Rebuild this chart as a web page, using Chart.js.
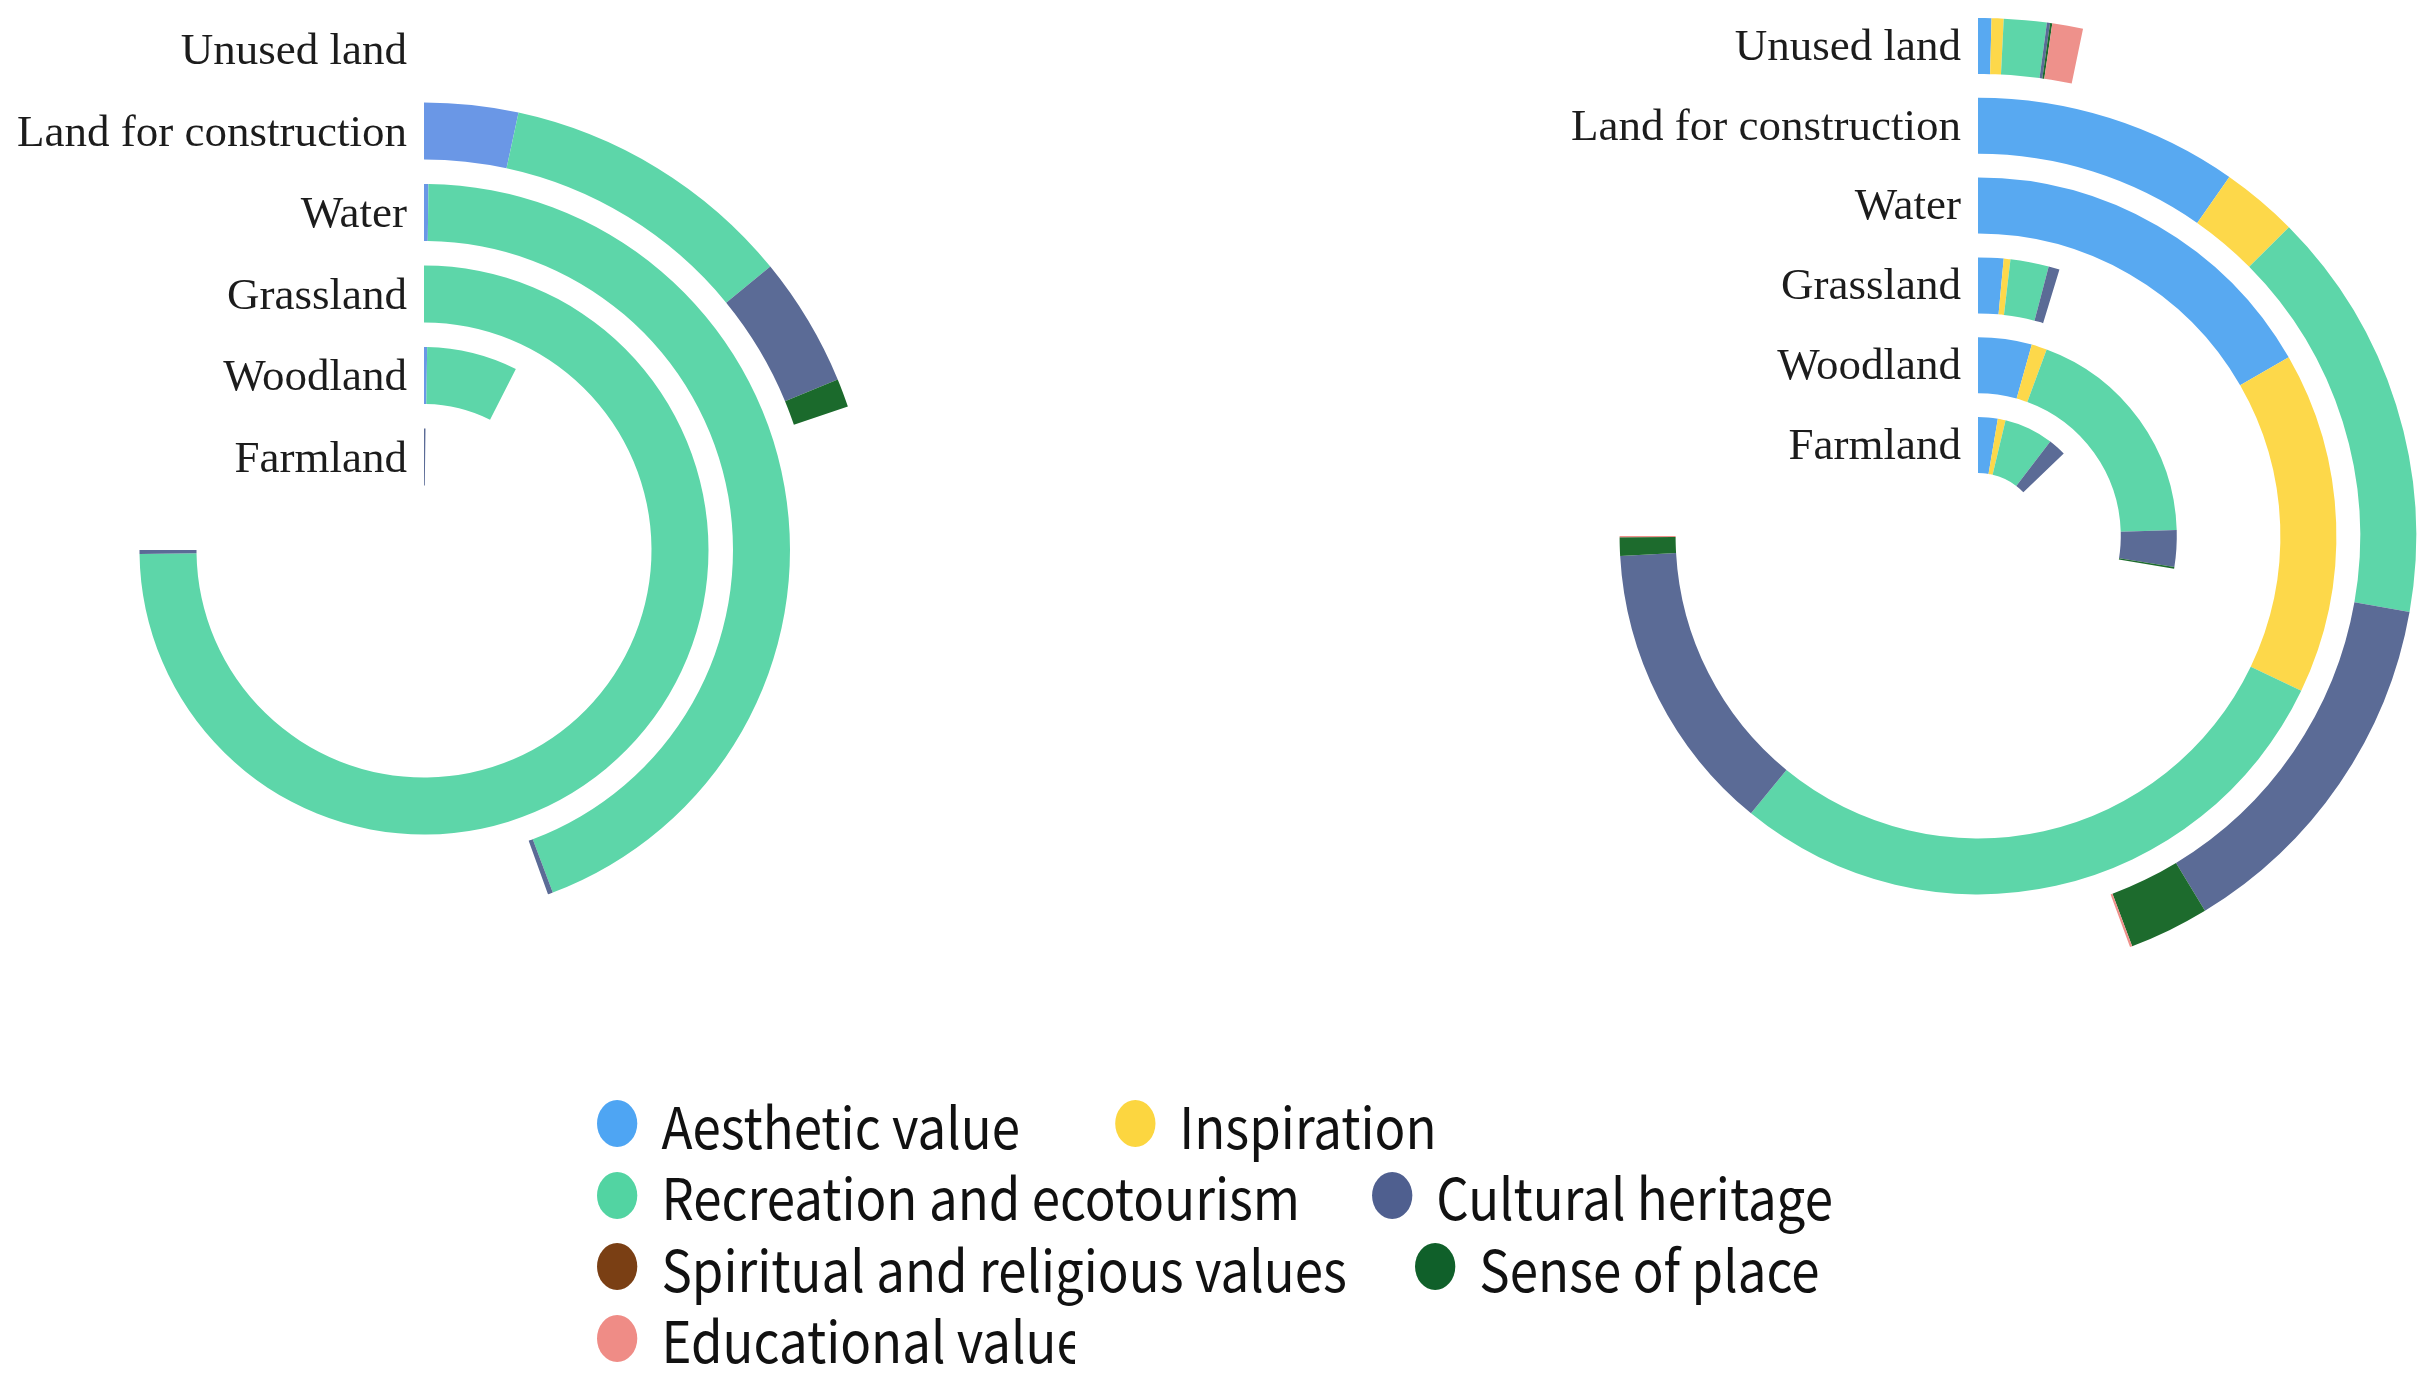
<!DOCTYPE html>
<html><head><meta charset="utf-8">
<script src="https://cdn.jsdelivr.net/npm/chart.js@4.4.1/dist/chart.umd.min.js"></script>
<style>
html,body{margin:0;padding:0;background:#fff;width:2436px;height:1383px;overflow:hidden;position:relative;}
canvas{position:absolute;}
#legend{position:absolute;left:597px;top:1088px;font-family:"Noto Sans CJK SC","Noto Sans",sans-serif;font-size:57px;color:#111;transform:scaleX(0.895);transform-origin:0 0;}
.row{display:flex;align-items:center;height:71.5px;white-space:nowrap;}
.item{display:flex;align-items:center;}
.mk{width:45px;height:47px;border-radius:50%;margin-right:27px;flex:none;}
.clip{overflow:hidden;}
</style></head><body>
<canvas id="left" width="1080" height="1080" style="left:-116px;top:10px"></canvas>
<canvas id="right" width="1060" height="1060" style="left:1448px;top:6px"></canvas>
<div id="legend"></div>
<script>
// Radial categories, outermost ring first
const CATEGORIES = ['Unused land','Land for construction','Water','Grassland','Woodland','Farmland'];
const SERIES = ['Aesthetic value','Inspiration','Recreation and ecotourism','Cultural heritage','Spiritual and religious values','Sense of place','Educational value'];
const ANGLE_MAX = 360; // full turn of the angle axis

// Left chart values (per category, outer -> inner)
const L_AESTHETIC   = [0, 12.2, 0.7, 0, 0.9, 0];
const L_INSPIRATION = [0, 0, 0, 0, 0, 0];
const L_RECREATION  = [0, 38.5, 158.7, 269.2, 26.0, 0];
const L_CULTURAL    = [0, 16.9, 0.8, 0.8, 0, 0.7];
const L_SPIRITUAL   = [0, 0, 0, 0, 0, 0];
const L_SENSE       = [0, 3.7, 0, 0, 0, 0];
const L_EDUCATIONAL = [0, 0, 0, 0, 0, 0];

// Right chart values
const R_AESTHETIC   = [1.5, 35.0, 60.1, 5.3, 15.7, 9.6];
const R_INSPIRATION = [1.35, 10.2, 55.5, 1.4, 4.5, 3.8];
const R_RECREATION  = [4.8, 54.8, 103.7, 8.0, 68.1, 24.0];
const R_CULTURAL    = [0.35, 48.8, 47.5, 2.3, 10.7, 8.7];
const R_SPIRITUAL   = [0, 0, 0, 0, 0, 0];
const R_SENSE       = [0.25, 10.6, 3.0, 0, 0.5, 0];
const R_EDUCATIONAL = [3.45, 0.3, 0.2, 0, 0, 0];

const LEFT_SERIES  = [L_AESTHETIC, L_INSPIRATION, L_RECREATION, L_CULTURAL, L_SPIRITUAL, L_SENSE, L_EDUCATIONAL];
const RIGHT_SERIES = [R_AESTHETIC, R_INSPIRATION, R_RECREATION, R_CULTURAL, R_SPIRITUAL, R_SENSE, R_EDUCATIONAL];

const LEFT_COLORS   = ['#6a97e6','#fdd84a','#5dd6a9','#5b6b96','#7b4219','#1b6a2c','#ee918b'];
const RIGHT_COLORS  = ['#58a9f1','#fdd84a','#5dd6a9','#5b6b96','#7b4219','#1d6b2d','#ee918b'];
const LEGEND_COLORS = ['#4ea5f3','#fcd640','#52d4a2','#4f5f8f','#7a3f14','#10602a','#ef8c86'];
const LEGEND_ROWS = [[0,1],[2,3],[4,5],[6]];
const LEGEND_ROW_GAPS = [106, 80, 76, 0];

const ringLabels = {
  id: 'ringLabels',
  afterDatasetsDraw(chart, args, opts) {
    const ctx = chart.ctx;
    ctx.save();
    ctx.font = opts.font;
    ctx.fillStyle = opts.color;
    ctx.textAlign = 'right';
    ctx.textBaseline = 'middle';
    chart.data.datasets.forEach((ds, di) => {
      if (!ds.category) return;
      const arc = chart.getDatasetMeta(di).data[0];
      const r = (arc.innerRadius + arc.outerRadius) / 2;
      ctx.fillText(ds.category, arc.x - opts.gap, arc.y - r + opts.dy);
    });
    ctx.restore();
  }
};

function buildChart(id, seriesArrays, colors, geo) {
  const datasets = [];
  CATEGORIES.forEach((cat, ci) => {
    if (ci > 0) {
      datasets.push({ data: [1], backgroundColor: ['rgba(0,0,0,0)'], weight: geo.gap, borderWidth: 0 });
    }
    const vals = seriesArrays.map(arr => arr[ci]);
    const sum = vals.reduce((a, b) => a + b, 0);
    datasets.push({
      category: cat,
      data: vals.concat([ANGLE_MAX - sum]),
      backgroundColor: colors.concat(['rgba(0,0,0,0)']),
      weight: geo.ring,
      borderWidth: 0
    });
  });
  return new Chart(document.getElementById(id), {
    type: 'doughnut',
    data: { labels: SERIES.concat(['']), datasets },
    options: {
      responsive: false,
      animation: false,
      events: [],
      radius: geo.outer,
      cutout: (geo.inner / geo.outer * 100) + '%',
      layout: { padding: 0 },
      plugins: {
        legend: { display: false },
        tooltip: { enabled: false },
        ringLabels: { font: '45px "Liberation Serif", "Times New Roman", serif', color: '#1c1c1c', gap: 17, dy: geo.labelDy }
      }
    },
    plugins: [ringLabels]
  });
}

buildChart('left', LEFT_SERIES, LEFT_COLORS, { outer: 529, inner: 64.5, ring: 57, gap: 24.5, labelDy: 3 });
buildChart('right', RIGHT_SERIES, RIGHT_COLORS, { outer: 518, inner: 63, ring: 56, gap: 23.8, labelDy: 2 });

// HTML legend built from the series list
const legend = document.getElementById('legend');
LEGEND_ROWS.forEach((row, ri) => {
  const rowEl = document.createElement('div');
  rowEl.className = 'row';
  rowEl.style.columnGap = LEGEND_ROW_GAPS[ri] + 'px';
  if (ri === LEGEND_ROWS.length - 1) { rowEl.classList.add('clip'); rowEl.style.width = '534px'; }
  row.forEach(si => {
    const it = document.createElement('div');
    it.className = 'item';
    const mk = document.createElement('span');
    mk.className = 'mk';
    mk.style.background = LEGEND_COLORS[si];
    const tx = document.createElement('span');
    tx.textContent = SERIES[si];
    it.appendChild(mk); it.appendChild(tx);
    rowEl.appendChild(it);
  });
  legend.appendChild(rowEl);
});
</script>
</body></html>
